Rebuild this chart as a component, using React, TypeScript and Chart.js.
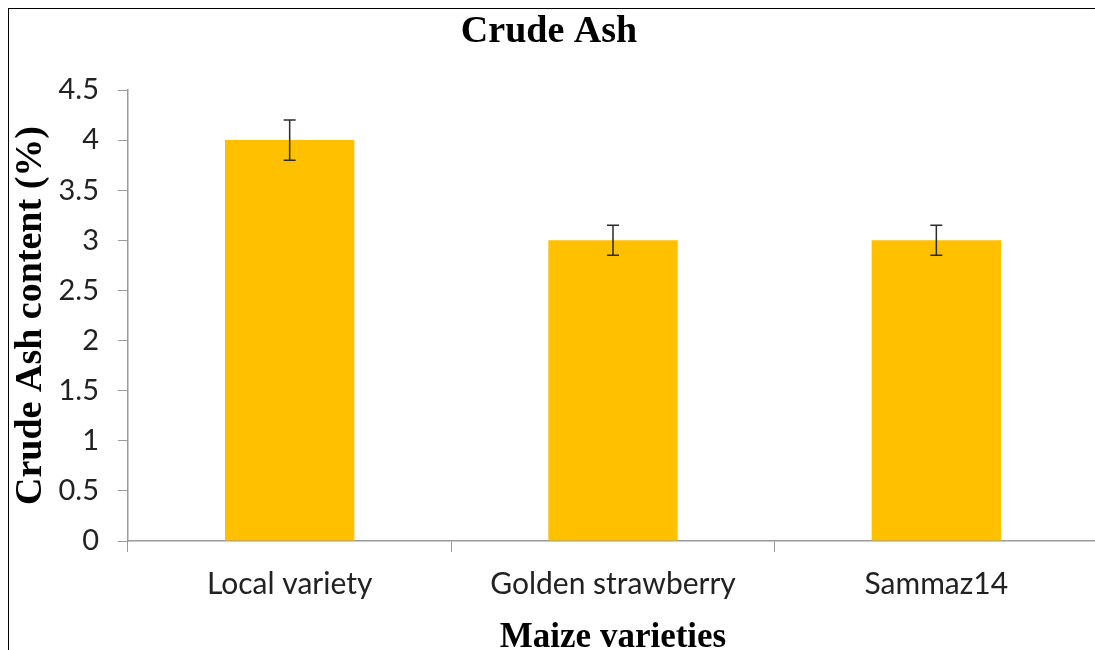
import React, { useEffect, useRef } from "react";
import { Chart, registerables } from "chart.js";

Chart.register(...registerables);

const categories = ["Local variety", "Golden strawberry", "Sammaz14"];
const crudeAsh = [4.0, 3.0, 3.0];
const errLow = [3.8, 2.85, 2.85];
const errHigh = [4.2, 3.15, 3.15];
const yTicks = [0, 0.5, 1, 1.5, 2, 2.5, 3, 3.5, 4, 4.5];

const TICK_FONT = "Lato, 'Open Sans', sans-serif";
const SERIF = "'Liberation Serif', 'DejaVu Serif', serif";

const errorBarPlugin = {
  id: "errorBars",
  afterDatasetsDraw(chart: any) {
    const ctx = chart.ctx;
    const meta = chart.getDatasetMeta(0);
    const y = chart.scales.y;
    ctx.save();
    ctx.strokeStyle = "#2b2b2b";
    ctx.lineWidth = 1.5;
    meta.data.forEach((bar: any, i: number) => {
      const x = bar.x;
      const yl = y.getPixelForValue(errLow[i]);
      const yh = y.getPixelForValue(errHigh[i]);
      const cap = 6;
      ctx.beginPath();
      ctx.moveTo(x, yl);
      ctx.lineTo(x, yh);
      ctx.moveTo(x - cap, yl);
      ctx.lineTo(x + cap, yl);
      ctx.moveTo(x - cap, yh);
      ctx.lineTo(x + cap, yh);
      ctx.stroke();
    });
    ctx.restore();
  },
};

export default function App() {
  const ref = useRef<HTMLCanvasElement | null>(null);

  useEffect(() => {
    if (!ref.current) return;
    const chart = new Chart(ref.current, {
      type: "bar",
      data: {
        labels: categories,
        datasets: [
          {
            label: "Crude Ash",
            data: crudeAsh,
            backgroundColor: "#FFC000",
            borderWidth: 0,
            categoryPercentage: 1,
            barPercentage: 0.4,
          },
        ],
      },
      options: {
        responsive: false,
        animation: false,
        devicePixelRatio: 1,
        layout: { padding: { left: 0, right: 2, top: 0, bottom: 0 } },
        plugins: {
          legend: { display: false },
          tooltip: { enabled: false },
          title: {
            display: true,
            text: "Crude Ash",
            color: "#000",
            font: { family: SERIF, size: 38, weight: "bold" },
            padding: { top: 9, bottom: 35.4 },
          },
        },
        scales: {
          x: {
            grid: {
              drawOnChartArea: false,
              drawTicks: true,
              tickLength: 11,
              color: "#9a9a9a",
              offset: true,
            },
            border: { display: true, color: "#9a9a9a", width: 1.5 },
            ticks: {
              color: "#222",
              font: { family: TICK_FONT, size: 30 },
              padding: 14,
              maxRotation: 0,
              autoSkip: false,
            },
            title: {
              display: true,
              text: "Maize varieties",
              color: "#000",
              font: { family: SERIF, size: 35, weight: "bold" },
              padding: { top: 0, bottom: 11 },
            },
            afterFit(scale: any) {
              scale.height = 129;
            },
          },
          y: {
            min: 0,
            max: 4.5,
            afterBuildTicks(scale: any) {
              scale.ticks = yTicks.map((v) => ({ value: v }));
            },
            grid: {
              drawOnChartArea: false,
              drawTicks: true,
              tickLength: 10,
              color: "#9a9a9a",
            },
            border: { display: true, color: "#9a9a9a", width: 1.5 },
            ticks: {
              color: "#222",
              font: { family: TICK_FONT, size: 29 },
              padding: 19,
              callback: (v: any) => String(v),
            },
            title: {
              display: true,
              text: "Crude Ash content (%)",
              color: "#000",
              font: { family: SERIF, size: 38, weight: "bold" },
              padding: { top: 8, bottom: 0 },
            },
            afterFit(scale: any) {
              scale.width = 128;
            },
          },
        },
      },
      plugins: [errorBarPlugin],
    });
    return () => chart.destroy();
  }, []);

  return (
    <div
      style={{
        position: "fixed",
        left: 0,
        top: 0,
        width: 1095,
        height: 650,
        overflow: "hidden",
        background: "#fff",
      }}
    >
      <div
        style={{
          position: "absolute",
          left: 8,
          top: 8,
          width: 1200,
          height: 700,
          border: "1px solid #000",
        }}
      />
      <canvas
        ref={ref}
        width={1100}
        height={670}
        style={{ position: "absolute", left: 0, top: 0, width: 1100, height: 670 }}
      />
    </div>
  );
}
